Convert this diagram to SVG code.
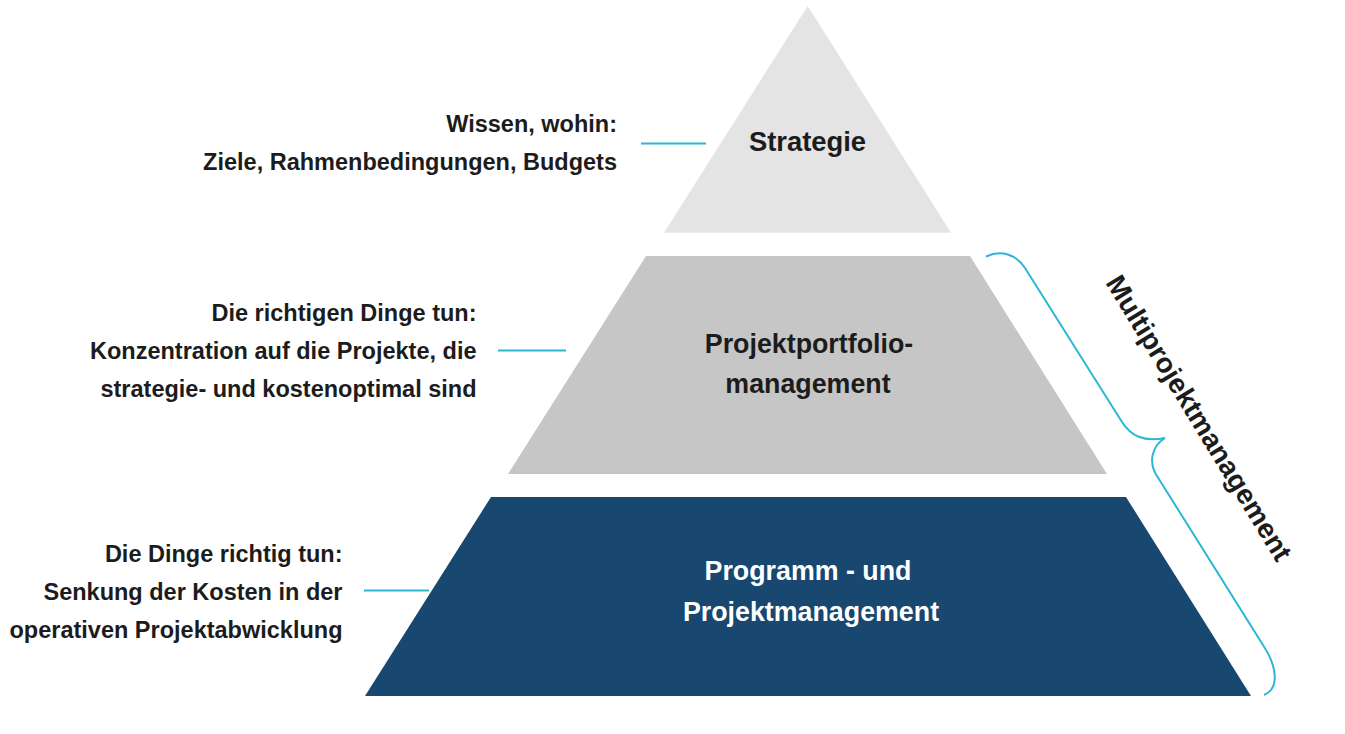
<svg xmlns="http://www.w3.org/2000/svg" width="1345" height="734" viewBox="0 0 1345 734">
<style>
.lbl{font-family:"Liberation Sans",Arial,sans-serif;font-weight:bold;font-size:23.5px;fill:#1c1c1c;text-anchor:end}
.ctr{font-family:"Liberation Sans",Arial,sans-serif;font-weight:bold;font-size:26.8px;fill:#1c1c1c;text-anchor:middle}
.conn{stroke:#2bb7d5;stroke-width:2;fill:none}
</style>
<rect width="1345" height="734" fill="#ffffff"/>
<g id="node-strategie">
<polygon points="807.7,6 951,232.7 664,232.7" fill="#e3e4e3"/>
<text class="ctr" x="807.5" y="150.7" style="font-size:27.4px">Strategie</text>
</g>
<g id="node-portfolio">
<polygon points="646,256 970,256 1107,474 508,474" fill="#c6c6c6"/>
<text class="ctr" x="809" y="353.3">Projektportfolio-</text>
<text class="ctr" x="808" y="393.3">management</text>
</g>
<g id="node-programm">
<polygon points="491,497 1126,497 1251,696 365,696" fill="#18476f"/>
<text class="ctr" x="808" y="580" style="fill:#ffffff">Programm - und</text>
<text class="ctr" x="811" y="621" style="fill:#ffffff">Projektmanagement</text>
</g>
<g id="label-strategie">
<text class="lbl" x="617" y="132.3">Wissen, wohin:</text>
<text class="lbl" x="617" y="170">Ziele, Rahmenbedingungen, Budgets</text>
</g>
<g id="label-portfolio">
<text class="lbl" x="476.5" y="320.7">Die richtigen Dinge tun:</text>
<text class="lbl" x="476.5" y="359">Konzentration auf die Projekte, die</text>
<text class="lbl" x="476.5" y="397.3">strategie- und kostenoptimal sind</text>
</g>
<g id="label-programm">
<text class="lbl" x="342.5" y="561.7">Die Dinge richtig tun:</text>
<text class="lbl" x="342.5" y="600">Senkung der Kosten in der</text>
<text class="lbl" x="342.5" y="638">operativen Projektabwicklung</text>
</g>
<g id="brace-multiprojekt">
<path class="conn" d="M 986 256.5 C 1000 250, 1015 253, 1025 268 L 1122 422 C 1131 436, 1143 442, 1165 438 C 1152 446, 1148 462, 1157 476 L 1263 645 C 1278 668, 1279 689, 1264 695"/>
<text class="ctr" transform="translate(1191,423) rotate(58.5)" style="font-size:27.8px">Multiprojektmanagement</text>
</g>
<g id="connectors">
<line class="conn" x1="641" y1="143.5" x2="706" y2="143.5"/>
<line class="conn" x1="498" y1="350.5" x2="566" y2="350.5"/>
<line class="conn" x1="364" y1="590.5" x2="429" y2="590.5"/>
</g>
</svg>
